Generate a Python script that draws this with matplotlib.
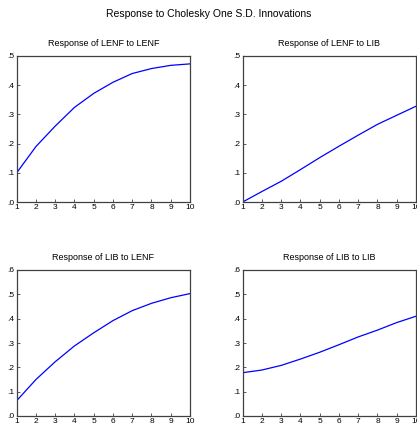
import matplotlib
matplotlib.use("Agg")
import matplotlib.pyplot as plt

# impulse response periods
periods = [1, 2, 3, 4, 5, 6, 7, 8, 9, 10]

# responses
lenf_to_lenf = [0.100, 0.190, 0.260, 0.324, 0.372, 0.410, 0.440, 0.457, 0.468, 0.473]
lenf_to_lib = [0.000, 0.036, 0.071, 0.111, 0.152, 0.191, 0.229, 0.266, 0.297, 0.328]
lib_to_lenf = [0.063, 0.150, 0.223, 0.288, 0.342, 0.392, 0.433, 0.463, 0.486, 0.503]
lib_to_lib = [0.178, 0.189, 0.208, 0.234, 0.262, 0.293, 0.325, 0.353, 0.384, 0.410]

titles = ["Response of LENF to LENF", "Response of LENF to LIB",
          "Response of LIB to LENF", "Response of LIB to LIB"]
series = [lenf_to_lenf, lenf_to_lib, lib_to_lenf, lib_to_lib]
y_tops = [0.5, 0.5, 0.6, 0.6]

plt.rcParams['font.family'] = ['Liberation Sans', 'DejaVu Sans']

W, H = 417, 430
fig = plt.figure(figsize=(W / 100, H / 100), dpi=100)

# axes boxes in pixels: left, top, width, height
boxes = [(16.7, 56, 173.3, 146), (242.7, 56, 173.3, 146),
         (16.7, 270, 173.3, 146), (242.7, 270, 173.3, 146)]

fig.text(0.5, 1 - 14 / H, "Response to Cholesky One S.D. Innovations",
         ha="center", va="center", fontsize=7.5)

for box, title, vals, ytop in zip(boxes, titles, series, y_tops):
    left, top, w, h = box
    ax = fig.add_axes([left / W, 1 - (top + h) / H, w / W, h / H])
    ax.plot(periods, vals, color="#0000ff", lw=0.9)
    ax.set_xlim(1, 10)
    ax.set_ylim(0, ytop)
    ax.set_xticks(periods)
    yt = [i / 10 for i in range(int(round(ytop * 10)) + 1)]
    ax.set_yticks(yt)
    ax.set_yticklabels(["." + str(i) for i in range(len(yt))])
    ax.tick_params(direction="in", length=2.5, width=0.6, labelsize=6,
                   pad=1.5, color="#404040")
    for sp in ax.spines.values():
        sp.set_linewidth(0.9)
        sp.set_color("#404040")
    ax.set_title(title, fontsize=6.5, pad=7)

fig.savefig("out.png", dpi=100)
